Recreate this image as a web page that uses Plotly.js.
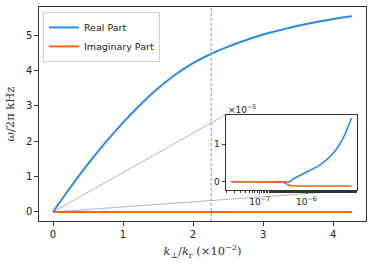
<!DOCTYPE html>
<html><head><meta charset="utf-8">
<script src="https://cdn.plot.ly/plotly-3.0.1.min.js"></script>
<style>html,body{margin:0;padding:0;background:#fff}#c{width:374px;height:266px}</style>
</head><body><div id="c"></div>
<script>
// Main panel data (k_perp/k_r in units of 1e-2, frequency in kHz)
const kMain = [0, 0.25, 0.5, 0.75, 1.0, 1.25, 1.5, 1.75, 2.0, 2.25, 2.5, 2.75, 3.0, 3.25, 3.5, 3.75, 4.0, 4.27];
const realMain = [0, 0.70, 1.36, 1.97, 2.53, 3.04, 3.50, 3.89, 4.21, 4.47, 4.68, 4.86, 5.02, 5.15, 5.27, 5.37, 5.46, 5.54];
const imagMain = [0, 0, 0, 0, 0, 0, 0, 0, 0, 0, 0, 0, 0, 0, 0, 0, 0, 0];
const kMark = 2.26;

// Inset data (log-scale k, values in units of 1e-5)
const kInset = [2.5e-8, 5e-8, 1e-7, 2e-7, 3.1e-7, 4.3e-7, 5e-7, 8.7e-7, 1.95e-6, 3.7e-6, 6.0e-6, 9.1e-6];
const realInset = [0, 0, 0, 0, 0, 0, 0.06, 0.22, 0.45, 0.76, 1.16, 1.70];
const imagInset = [0, 0, 0, 0, -0.01, -0.09, -0.115, -0.115, -0.115, -0.115, -0.115, -0.115];

const xTicks = [0, 1, 2, 3, 4];
const yTicks = [0, 1, 2, 3, 4, 5];
const insetXTicks = [1e-7, 1e-6];
const insetXLabels = ['10<sup>−7</sup>', '10<sup>−6</sup>'];
const insetYTicks = [0, 1];

const BLUE = '#2a8bec', ORANGE = '#ff6611';
const xr = [-0.2, 4.47], yr = [-0.255, 5.8];
const xd2 = [0.571, 0.9716], yd2 = [0.1449, 0.4967];

const traces = [
  {x: kMain, y: realMain, mode: 'lines', name: 'Real Part', line: {color: BLUE, width: 2, shape: 'spline', smoothing: 1}, xaxis: 'x', yaxis: 'y'},
  {x: kMain, y: imagMain, mode: 'lines', name: 'Imaginary Part', line: {color: ORANGE, width: 2}, xaxis: 'x', yaxis: 'y'},
  {x: [kMark, kMark], y: yr, mode: 'lines', showlegend: false, line: {color: '#6db8f2', width: 1.2, dash: '3px,2px'}, xaxis: 'x', yaxis: 'y'},
  {x: kInset, y: realInset, mode: 'lines', showlegend: false, line: {color: BLUE, width: 1.6, shape: 'spline', smoothing: 0.8}, xaxis: 'x2', yaxis: 'y2'},
  {x: kInset, y: imagInset, mode: 'lines', showlegend: false, line: {color: ORANGE, width: 1.6}, xaxis: 'x2', yaxis: 'y2'}
];

// origin of main axes in paper coords for connector lines
const ox = (0 - xr[0]) / (xr[1] - xr[0]);
const oy = (0 - yr[0]) / (yr[1] - yr[0]);
const conn = {color: 'rgba(120,135,135,0.75)', width: 0.8};

const tickFont = {family: 'DejaVu Sans', size: 10, color: '#222'};
const layout = {
  width: 374, height: 266,
  margin: {l: 39, r: 8, t: 7, b: 45},
  paper_bgcolor: '#fff', plot_bgcolor: '#fff',
  showlegend: true,
  legend: {x: 0.012, y: 0.977, xanchor: 'left', yanchor: 'top', bgcolor: 'rgba(255,255,255,0.8)',
           bordercolor: '#d0d0d0', borderwidth: 1, font: {family: 'DejaVu Sans', size: 9.5, color: '#222'},
           tracegroupgap: 0, itemwidth: 30},
  xaxis: {domain: [0, 1], range: xr, tickvals: xTicks, ticks: 'outside', ticklen: 3.5, tickcolor: '#333',
          showgrid: false, zeroline: false, showline: true, mirror: true, linecolor: '#333', linewidth: 1.2,
          tickfont: tickFont,
          title: {text: '<i>k</i><sub>⊥</sub>/<i>k</i><sub>r</sub> (×10<sup>−2</sup>)', font: {family: 'DejaVu Serif', size: 11.5, color: '#333'}, standoff: 8}},
  yaxis: {domain: [0, 1], range: yr, tickvals: yTicks, ticks: 'outside', ticklen: 3.5, tickcolor: '#333',
          showgrid: false, zeroline: false, showline: true, mirror: true, linecolor: '#333', linewidth: 1.2,
          tickfont: tickFont,
          title: {text: '<i>ω</i>/2π kHz', font: {family: 'DejaVu Serif', size: 11.5, color: '#333'}, standoff: 8}},
  xaxis2: {domain: xd2, anchor: 'y2', type: 'log', range: [-7.72, -4.93], tickvals: insetXTicks, ticktext: insetXLabels,
           ticks: 'outside', ticklen: 3, tickcolor: '#333', showgrid: false, zeroline: false,
           showline: true, mirror: true, linecolor: '#333', linewidth: 1.2,
           tickfont: {family: 'DejaVu Sans', size: 9, color: '#222'},
           minor: {ticks: 'outside', ticklen: 2, tickcolor: '#333', showgrid: false}},
  yaxis2: {domain: yd2, anchor: 'x2', range: [-0.22, 1.79], tickvals: insetYTicks, ticks: 'outside', ticklen: 3,
           tickcolor: '#333', showgrid: false, zeroline: false, showline: true, mirror: true,
           linecolor: '#333', linewidth: 1.2, tickfont: {family: 'DejaVu Sans', size: 9, color: '#222'}},
  shapes: [
    {type: 'line', xref: 'paper', yref: 'paper', x0: ox, y0: oy, x1: xd2[0], y1: yd2[1], line: conn, layer: 'below'},
    {type: 'line', xref: 'paper', yref: 'paper', x0: ox, y0: oy, x1: xd2[1], y1: yd2[0], line: conn, layer: 'below'}
  ],
  annotations: [
    {xref: 'paper', yref: 'paper', x: xd2[0], y: yd2[1], xanchor: 'left', yanchor: 'bottom', showarrow: false,
     text: '×10<sup>−5</sup>', font: {family: 'DejaVu Sans', size: 9, color: '#222'}, yshift: -2}
  ]
};
Plotly.newPlot('c', traces, layout, {displayModeBar: false, staticPlot: true});
</script></body></html>
